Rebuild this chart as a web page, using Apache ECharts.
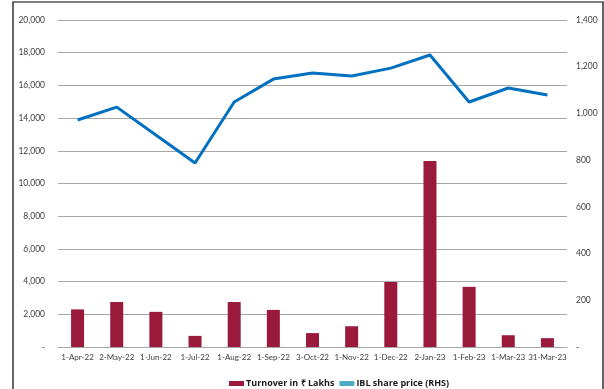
<!DOCTYPE html>
<html><head><meta charset="utf-8">
<script src="https://cdn.jsdelivr.net/npm/echarts@6/dist/echarts.min.js"></script>
<style>html,body{margin:0;padding:0;background:#fff}#c{width:604px;height:389px}</style>
</head><body><div id="c"></div>
<script>
const categories = ['1-Apr-22','2-May-22','1-Jun-22','1-Jul-22','1-Aug-22','1-Sep-22','3-Oct-22','1-Nov-22','1-Dec-22','2-Jan-23','1-Feb-23','1-Mar-23','31-Mar-23'];
const turnover = [2300, 2750, 2150, 680, 2750, 2270, 850, 1270, 3980, 11380, 3680, 720, 540];
const sharePrice = [972, 1027, 908, 788, 1049, 1147, 1173, 1160, 1194, 1250, 1049, 1109, 1079];
const leftTicks = {min: 0, max: 20000, interval: 2000};
const rightTicks = {min: 0, max: 1400, interval: 200};

const fmt = v => v === 0 ? '-' : v.toLocaleString('en-US');
const FONT = 'Lato';
const chart = echarts.init(document.getElementById('c'));
chart.setOption({
  animation: false,
  textStyle: {fontFamily: FONT},
  grid: {left: 58, right: 37, top: 20, bottom: 42},
  legend: {
    top: 374, left: 224, itemGap: 5, itemWidth: 15, itemHeight: 5,
    textStyle: {fontSize: 9, fontWeight: 'bold', color: '#1a1a1a', fontFamily: 'Open Sans', padding: [0, 0, 0, -3]},
    data: [
      {name: 'Turnover in ₹ Lakhs', icon: 'rect'},
      {name: 'IBL share price (RHS)', icon: 'roundRect', itemStyle: {color: '#4BACC6'}}
    ]
  },
  graphic: [
    {type: 'polyline', shape: {points: [[13, 389], [13, 2], [603, 2], [603, 389]]}, style: {stroke: '#000', lineWidth: 1.2, fill: null}, silent: true}
  ],
  xAxis: {
    type: 'category', data: categories,
    axisLine: {lineStyle: {color: '#A6A6A6'}},
    axisTick: {show: false},
    axisLabel: {color: '#404040', fontSize: 8, interval: 0, margin: 6}
  },
  yAxis: [
    {type: 'value', ...leftTicks, axisLine: {show: false}, axisTick: {show: false},
     splitLine: {lineStyle: {color: '#A6A6A6', width: 1}},
     axisLabel: {color: '#404040', fontSize: 8.5, margin: 13, formatter: fmt}},
    {type: 'value', ...rightTicks, axisLine: {show: false}, axisTick: {show: false},
     splitLine: {show: false},
     axisLabel: {color: '#404040', fontSize: 8.5, margin: 9, formatter: fmt}}
  ],
  series: [
    {name: 'Turnover in ₹ Lakhs', type: 'bar', data: turnover, barWidth: 13, itemStyle: {color: '#9A1A3B'}},
    {name: 'IBL share price (RHS)', type: 'line', yAxisIndex: 1, data: sharePrice, symbol: 'none',
     lineStyle: {color: '#0070C0', width: 3}, itemStyle: {color: '#0070C0'}}
  ]
});
</script></body></html>
